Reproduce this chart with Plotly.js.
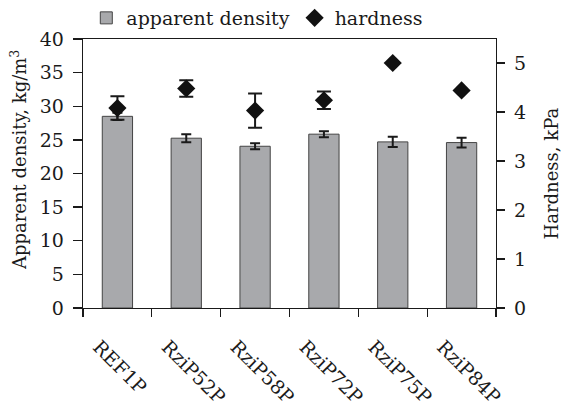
<!DOCTYPE html>
<html>
<head>
<meta charset="utf-8">
<script src="https://cdn.plot.ly/plotly-3.0.1.min.js"></script>
<style>html,body{margin:0;padding:0;background:#fff;}#chart{width:561px;height:412px;}</style>
</head>
<body>
<div id="chart"></div>
<script>
const categories = ["REF1P", "RziP52P", "RziP58P", "RziP72P", "RziP75P", "RziP84P"];
const densityValues = [28.5, 25.25, 24.05, 25.85, 24.7, 24.6];
const densityErrors = [0.55, 0.6, 0.45, 0.45, 0.75, 0.72];
const hardnessValues = [4.08, 4.48, 4.03, 4.24, 5.0, 4.44];
const hardnessErrors = [0.24, 0.17, 0.35, 0.18, 0, 0];
const leftTicks = [0, 5, 10, 15, 20, 25, 30, 35, 40];
const rightTicks = [0, 1, 2, 3, 4, 5];
const leftTitle = "Apparent density, kg/m<sup>3</sup>";
const rightTitle = "Hardness, kPa";

const FONT = "DejaVu Serif";
const INK = "#1a1a1a";

const traces = [
  {
    type: "bar",
    name: "apparent density",
    x: categories,
    y: densityValues,
    width: 0.44,
    marker: {color: "#a8a9ac", line: {color: "#444", width: 1}},
    error_y: {type: "data", array: densityErrors, visible: true, color: INK, thickness: 2, width: 5},
    yaxis: "y"
  },
  {
    type: "scatter",
    mode: "markers",
    name: "hardness",
    x: categories,
    y: hardnessValues,
    marker: {symbol: "diamond", size: 14, color: "#111"},
    error_y: {type: "data", array: hardnessErrors, visible: true, color: INK, thickness: 2, width: 7},
    yaxis: "y2"
  }
];

const layout = {
  width: 561, height: 412,
  margin: {l: 83, r: 65, t: 39, b: 104, autoexpand: false},
  paper_bgcolor: "#fff", plot_bgcolor: "#fff",
  font: {family: FONT, size: 19, color: INK},
  showlegend: true,
  legend: {orientation: "h", x: 0.008, y: 1.078, xanchor: "left", yanchor: "middle",
           font: {family: FONT, size: 19, color: INK}, itemwidth: 30, tracegroupgap: 0,
           bgcolor: "rgba(0,0,0,0)"},
  xaxis: {
    type: "category",
    showline: true, linecolor: INK, linewidth: 1.3, mirror: true,
    ticks: "outside", tickson: "boundaries", ticklen: 8, tickcolor: INK, tickwidth: 1.3,
    tickangle: 45, ticklabelstandoff: 19, ticklabelshift: -19,
    tickfont: {family: FONT, size: 19, color: INK},
    showgrid: false, zeroline: false
  },
  yaxis: {
    range: [0, 40], tickvals: leftTicks,
    showline: true, linecolor: INK, linewidth: 1.3,
    ticks: "outside", ticklen: 9, tickcolor: INK, tickwidth: 1.3,
    ticklabelstandoff: 5,
    tickfont: {family: FONT, size: 19, color: INK},
    showgrid: false, zeroline: false
  },
  yaxis2: {
    overlaying: "y", side: "right",
    range: [0, 5.49], tickvals: rightTicks,
    showline: true, linecolor: INK, linewidth: 1.3,
    ticks: "outside", ticklen: 8, tickcolor: INK, tickwidth: 1.3,
    ticklabelstandoff: 5,
    tickfont: {family: FONT, size: 19, color: INK},
    showgrid: false, zeroline: false
  },
  annotations: [
    {text: leftTitle, xref: "paper", yref: "paper", x: 0, y: 0.55, xshift: -64,
     xanchor: "center", yanchor: "middle", textangle: -90, showarrow: false,
     font: {family: FONT, size: 18, color: INK}},
    {text: rightTitle, xref: "paper", yref: "paper", x: 1, y: 0.5, xshift: 55,
     xanchor: "center", yanchor: "middle", textangle: -90, showarrow: false,
     font: {family: FONT, size: 18, color: INK}}
  ]
};

Plotly.newPlot("chart", traces, layout, {displayModeBar: false, staticPlot: true});
</script>
</body>
</html>
